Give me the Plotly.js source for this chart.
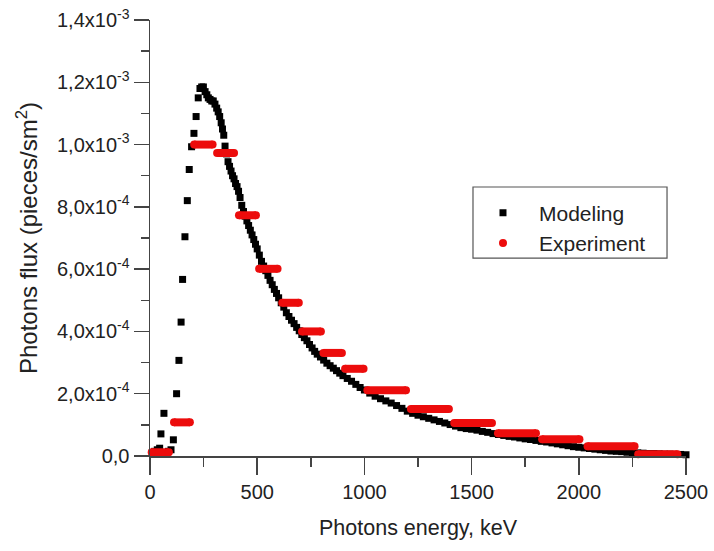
<!DOCTYPE html>
<html>
<head>
<meta charset="utf-8">
<script src="https://cdn.plot.ly/plotly-3.0.1.min.js"></script>
<style>html,body{margin:0;padding:0;background:#fff;}#chart{width:714px;height:551px;}</style>
</head>
<body>
<div id="chart"></div>
<script>
// Modeling (black squares): photon energy, keV and flux
const modelEnergy = [10,22,34,45,51,65,86,98,109,124,135,145,152,163,174,183,194,205,215,225,233,241,249,257,265,272,280,288,295,303,311,318,325,332,338,344,350,357,364,371,378,385,392,399,406,413,420,428,436,444,452,460,468,476,484,492,500,510,520,530,540,550,560,570,580,590,600,612,624,636,648,660,672,684,696,708,720,732,744,756,768,780,795,810,825,840,855,870,885,900,920,940,960,980,1000,1025,1050,1075,1100,1125,1150,1175,1200,1225,1250,1275,1300,1325,1350,1375,1400,1425,1450,1475,1500,1525,1550,1575,1600,1625,1650,1675,1700,1725,1750,1775,1800,1825,1850,1875,1900,1925,1950,1975,2000,2025,2050,2075,2100,2125,2150,2175,2200,2225,2250,2275,2300,2325,2350,2375,2400,2425,2450,2475,2500];
const modelFlux = [1.0e-5,1.5e-5,2.0e-5,2.5e-5,7.1e-5,1.37e-4,1.5e-5,2.0e-5,5.2e-5,2.0e-4,3.07e-4,4.3e-4,5.67e-4,7.04e-4,8.2e-4,9.2e-4,9.93e-4,1.036e-3,1.09e-3,1.15e-3,1.18e-3,1.185e-3,1.185e-3,1.17e-3,1.16e-3,1.15e-3,1.145e-3,1.14e-3,1.14e-3,1.13e-3,1.117e-3,1.105e-3,1.09e-3,1.07e-3,1.05e-3,1.03e-3,9.95e-4,9.7e-4,9.45e-4,9.3e-4,9.15e-4,9.0e-4,8.9e-4,8.75e-4,8.65e-4,8.5e-4,8.3e-4,8.05e-4,7.85e-4,7.7e-4,7.55e-4,7.4e-4,7.25e-4,7.1e-4,6.95e-4,6.8e-4,6.65e-4,6.45e-4,6.25e-4,6.1e-4,5.95e-4,5.8e-4,5.64e-4,5.5e-4,5.35e-4,5.22e-4,5.08e-4,4.92e-4,4.78e-4,4.6e-4,4.48e-4,4.36e-4,4.25e-4,4.13e-4,4.02e-4,3.9e-4,3.8e-4,3.7e-4,3.58e-4,3.47e-4,3.36e-4,3.27e-4,3.18e-4,3.08e-4,2.98e-4,2.9e-4,2.82e-4,2.74e-4,2.66e-4,2.58e-4,2.49e-4,2.4e-4,2.3e-4,2.2e-4,2.12e-4,2.02e-4,1.92e-4,1.84e-4,1.77e-4,1.7e-4,1.62e-4,1.53e-4,1.44e-4,1.37e-4,1.31e-4,1.26e-4,1.21e-4,1.16e-4,1.11e-4,1.06e-4,1.01e-4,9.6e-5,9.1e-5,8.8e-5,8.6e-5,8.3e-5,7.9e-5,7.6e-5,7.2e-5,6.9e-5,6.6e-5,6.3e-5,6.1e-5,5.8e-5,5.5e-5,5.3e-5,5.0e-5,4.7e-5,4.5e-5,4.2e-5,3.9e-5,3.6e-5,3.3e-5,3.0e-5,2.8e-5,2.6e-5,2.4e-5,2.2e-5,2.0e-5,1.8e-5,1.6e-5,1.5e-5,1.4e-5,1.2e-5,1.1e-5,1.0e-5,9e-6,8e-6,8e-6,7e-6,6e-6,6e-6,5e-6,5e-6,4e-6];

// Experiment (red dots): each bin drawn as a run of dots from first to last dot centre
const expStart = [8,112,206,313,415,509,617,709,809,910,1014,1217,1419,1623,1829,2041,2277];
const expEnd   = [88,186,292,392,494,595,694,797,895,996,1194,1394,1595,1800,2003,2260,2460];
const expFlux  = [1.2e-5,1.08e-4,1.0e-3,9.73e-4,7.73e-4,6.01e-4,4.92e-4,4.0e-4,3.31e-4,2.8e-4,2.11e-4,1.51e-4,1.06e-4,7.3e-5,5.4e-5,3.1e-5,6e-6];

// Axis ticks
const xTickVals = [0,500,1000,1500,2000,2500];
const xTickText = ['0','500','1000','1500','2000','2500'];
const yTickVals = [0,2e-4,4e-4,6e-4,8e-4,1e-3,1.2e-3,1.4e-3];
const yTickText = ['0,0','2,0x10<sup>-4</sup>','4,0x10<sup>-4</sup>','6,0x10<sup>-4</sup>','8,0x10<sup>-4</sup>','1,0x10<sup>-3</sup>','1,2x10<sup>-3</sup>','1,4x10<sup>-3</sup>'];

const red = '#ec0c0c';
const segX = [], segY = [], dotX = [], dotY = [];
for (let i = 0; i < expStart.length; i++) {
  segX.push(expStart[i], expEnd[i], null);
  segY.push(expFlux[i], expFlux[i], null);
  dotX.push(expStart[i], expEnd[i]);
  dotY.push(expFlux[i], expFlux[i]);
}

const traces = [
  {x: modelEnergy, y: modelFlux, type: 'scatter', mode: 'markers', name: 'Modeling',
   marker: {symbol: 'square', size: 7, color: '#000'}, cliponaxis: false},
  {x: segX, y: segY, type: 'scatter', mode: 'lines', showlegend: false, hoverinfo: 'skip',
   line: {color: red, width: 8}, cliponaxis: false},
  {x: dotX, y: dotY, type: 'scatter', mode: 'markers', name: 'Experiment',
   marker: {symbol: 'circle', size: 8, color: red}, cliponaxis: false}
];

const fontFam = '"Liberation Sans", Arial, sans-serif';
const layout = {
  width: 714, height: 551,
  margin: {l: 150, r: 28, t: 20, b: 95},
  paper_bgcolor: '#fff', plot_bgcolor: '#fff',
  font: {family: fontFam, size: 20, color: '#222'},
  showlegend: true,
  legend: {x: 0.5914, y: 0.604, xanchor: 'left', yanchor: 'top',
    borderwidth: 0, bgcolor: 'rgba(0,0,0,0)', tracegroupgap: 0,
    font: {family: fontFam, size: 21, color: '#222'}, itemwidth: 62},
  shapes: [{type: 'rect', xref: 'paper', yref: 'paper', x0: 0.6026, x1: 0.9646, y0: 0.454, y1: 0.617,
    line: {color: '#555', width: 1.2}, fillcolor: 'rgba(0,0,0,0)', layer: 'above'}],
  xaxis: {range: [0, 2500], showline: true, linecolor: '#444', linewidth: 1.5,
    showgrid: false, zeroline: false, ticks: 'outside', ticklen: 17, tickwidth: 1.5, tickcolor: '#444',
    tickmode: 'array', tickvals: xTickVals, ticktext: xTickText,
    minor: {tickmode: 'linear', tick0: 0, dtick: 250, ticklen: 9, tickwidth: 1.5, tickcolor: '#444', showgrid: false},
    title: {text: 'Photons energy, keV', font: {size: 21.5}, standoff: 18}},
  yaxis: {range: [0, 1.4e-3], showline: true, linecolor: '#444', linewidth: 1.5,
    showgrid: false, zeroline: false, ticks: 'outside', ticklen: 15, tickwidth: 1.5, tickcolor: '#444',
    tickmode: 'array', tickvals: yTickVals, ticktext: yTickText,
    minor: {tickmode: 'linear', tick0: 0, dtick: 1e-4, ticklen: 8, tickwidth: 1.5, tickcolor: '#444', showgrid: false},
    title: {text: 'Photons flux (pieces/sm<sup>2</sup>)', font: {size: 24}, standoff: 12}}
};

Plotly.newPlot('chart', traces, layout, {staticPlot: true, displayModeBar: false});
</script>
</body>
</html>
